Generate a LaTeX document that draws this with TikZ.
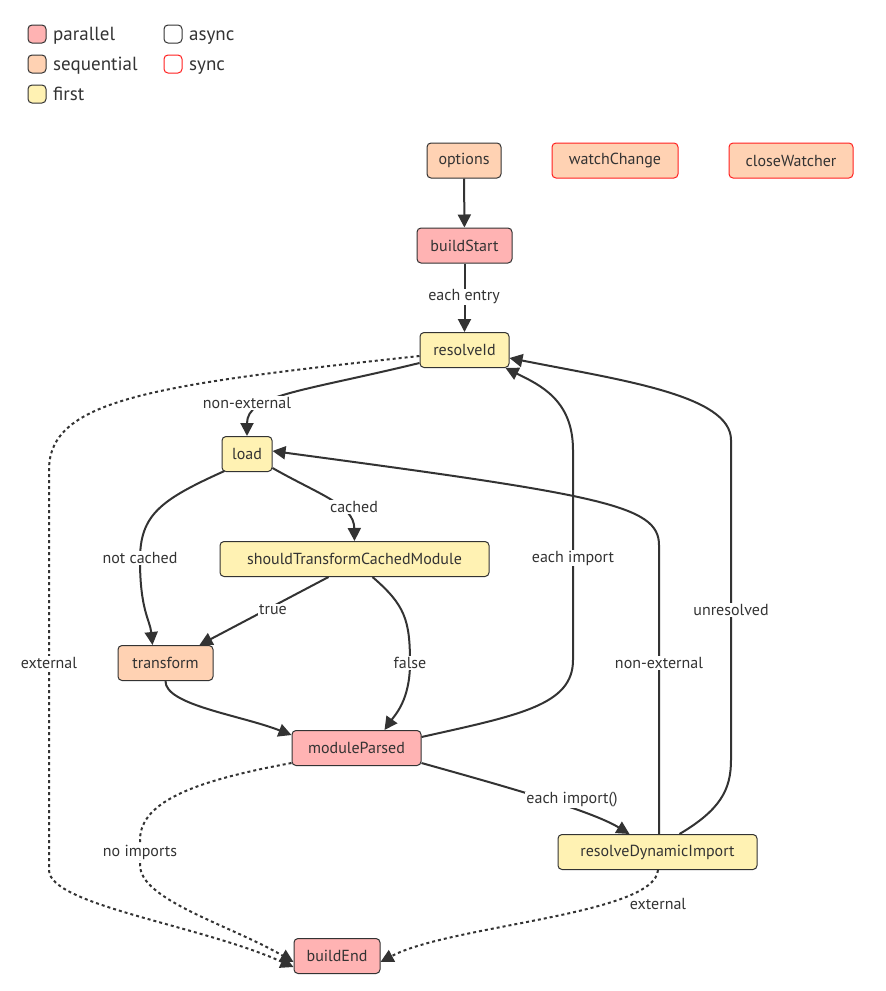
\documentclass[tikz,border=0pt]{standalone}
\usepackage{fontspec}
\setmainfont{PT Sans}
\usetikzlibrary{arrows.meta}
\definecolor{ink}{HTML}{333333}
\definecolor{par}{HTML}{FFB3B3}
\definecolor{seq}{HTML}{FFD2B3}
\definecolor{fst}{HTML}{FFF2B3}
\definecolor{syn}{HTML}{FF2020}
\tikzset{
  box/.style={rectangle, rounded corners=4pt, draw=ink, line width=1pt, minimum height=35pt, inner sep=0pt, text=ink, font=\fontsize{16}{19}\selectfont},
  parbox/.style={box, fill=par},
  seqbox/.style={box, fill=seq},
  fstbox/.style={box, fill=fst},
  syncbox/.style={draw=syn},
  arr/.style={draw=ink, line width=2pt, -{Triangle[length=13pt,width=13pt]}},
  dotarr/.style={arr, dash pattern=on 3pt off 3pt},
  lbl/.style={fill=white, inner sep=1pt, text=ink, font=\fontsize{16}{19}\selectfont},
  lgbox/.style={rectangle, rounded corners=4pt, draw=ink, line width=1pt, minimum width=18pt, minimum height=18pt, inner sep=0pt},
  lgtext/.style={anchor=base west, text=ink, inner sep=0pt, font=\fontsize{19}{23}\selectfont}
}
\begin{document}
\begin{tikzpicture}[x=1pt,y=-1pt]
\useasboundingbox (0,0) rectangle (886,991);
% legend
\node[lgbox, fill=par] (lgpar) at (37,34) {};
\node[lgtext] (lgpart) at (53,40) {parallel};
\node[lgbox, fill=seq] (lgseq) at (37,64) {};
\node[lgtext] (lgseqt) at (53,70) {sequential};
\node[lgbox, fill=fst] (lgfst) at (37,94) {};
\node[lgtext] (lgfstt) at (53,100) {first};
\node[lgbox, fill=white] (lgasy) at (173,34) {};
\node[lgtext] (lgasyt) at (189,40) {async};
\node[lgbox, fill=white, draw=syn] (lgsyn) at (173,64) {};
\node[lgtext] (lgsynt) at (189,70) {sync};
% nodes
\node[seqbox, minimum width=74pt] (options) at (464,160.5) {options};
\node[seqbox, syncbox, minimum width=126pt] (watchChange) at (615,160.5) {watchChange};
\node[seqbox, syncbox, minimum width=124pt] (closeWatcher) at (791,160.5) {closeWatcher};
\node[parbox, minimum width=95pt] (buildStart) at (464.5,245.5) {buildStart};
\node[fstbox, minimum width=89pt] (resolveId) at (464.5,350) {resolveId};
\node[fstbox, minimum width=50pt] (load) at (247,454) {load};
\node[fstbox, minimum width=269pt] (stcm) at (354.5,559) {shouldTransformCachedModule};
\node[seqbox, minimum width=95pt] (transform) at (165.5,663) {transform};
\node[parbox, minimum width=129pt] (moduleParsed) at (356.5,748) {moduleParsed};
\node[fstbox, minimum width=199pt] (rdi) at (657.5,852) {resolveDynamicImport};
\node[parbox, minimum width=86pt] (buildEnd) at (337,956) {buildEnd};
% edges
\draw[arr] (options) -- (buildStart);
\draw[arr] (buildStart) -- (resolveId);
\draw[arr] (resolveId.south west) ++(0,-5) .. controls (300,392) and (247,395) .. (load.north);
\draw[dotarr] (resolveId.west) ++(0,6) .. controls (150,385) and (49,400) .. (49,470) -- (49,870) .. controls (49,905) and (200,925) .. ([yshift=-11pt]buildEnd.west);
\draw[arr] (load.south east) ++(0,-4) .. controls (320,495) and (354,505) .. (stcm.north);
\draw[arr] (load.south west) ++(3,-1) .. controls (160,500) and (140,515) .. (140,560) .. controls (140,610) and (150,620) .. ([xshift=-13pt]transform.north);
\draw[arr] ([xshift=-26pt]stcm.south) -- ([xshift=34pt]transform.north);
\draw[arr] ([xshift=18pt]stcm.south) .. controls (405,605) and (410,620) .. (410,663) .. controls (410,700) and (395,715) .. ([xshift=28pt]moduleParsed.north);
\draw[arr] (transform.south) .. controls (165,705) and (240,715) .. ([yshift=13pt]moduleParsed.west);
\draw[arr] ([yshift=11pt]moduleParsed.east) .. controls (520,715) and (573,705) .. (573,660) -- (573,450) .. controls (573,400) and (540,385) .. ([xshift=-4pt]resolveId.south east);
\draw[dotarr] (moduleParsed.south west) ++(0,-3) .. controls (200,780) and (140,800) .. (140,840) -- (140,865) .. controls (140,900) and (230,925) .. ([yshift=-6pt]buildEnd.west);
\draw[arr] ([yshift=-15pt]moduleParsed.east) .. controls (500,785) and (590,810) .. ([xshift=-28pt]rdi.north);
\draw[arr] ([xshift=1.5pt]rdi.north) -- (659,545) .. controls (659,505) and (600,495) .. ([yshift=3pt]load.east);
\draw[arr] ([xshift=22pt]rdi.north) .. controls (720,810) and (731,790) .. (731,760) -- (731,440) .. controls (731,395) and (620,380) .. ([yshift=-8pt]resolveId.east);
\draw[dotarr] ([xshift=0.5pt]rdi.south) .. controls (655,915) and (450,925) .. ([yshift=-6pt]buildEnd.east);
% labels
\node[lbl] (l1) at (464,297) {each entry};
\node[lbl] (l2) at (247,403) {non-external};
\node[lbl] (l3) at (354,507) {cached};
\node[lbl] (l4) at (140,558) {not cached};
\node[lbl] (l5) at (273,610) {true};
\node[lbl] (l6) at (410,663) {false};
\node[lbl] (l7) at (573,558) {each import};
\node[lbl] (l8) at (49,663) {external};
\node[lbl] (l9) at (140,852) {no imports};
\node[lbl] (l10) at (572,800) {each import()};
\node[lbl] (l11) at (659,663) {non-external};
\node[lbl] (l12) at (731,610) {unresolved};
\node[lbl] (l13) at (658,904) {external};
\end{tikzpicture}
\end{document}
